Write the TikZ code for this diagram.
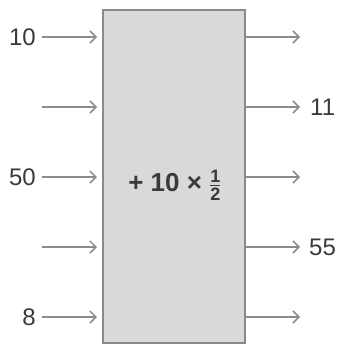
\documentclass[tikz,border=0pt]{standalone}
\usepackage{fontspec}
\setmainfont{Liberation Sans}
\usetikzlibrary{arrows.meta}
\definecolor{arr}{HTML}{8C8C8C}
\definecolor{boxfill}{HTML}{D9D9DB}
\definecolor{boxline}{HTML}{8A8A8A}
\definecolor{txt}{HTML}{3A3A3A}
\begin{document}
\begin{tikzpicture}[x=1pt,y=-1pt,
  lbl/.style={text=txt,font=\fontsize{24}{24}\selectfont,inner sep=0pt},
  flow/.style={draw=arr,line width=1.5pt,-{Straight Barb[length=6pt,width=12pt,line width=1.5pt]}},
  opbox/.style={draw=boxline,fill=boxfill,line width=1.5pt,minimum width=142pt,minimum height=333pt,inner sep=0pt}]
\useasboundingbox (0,0) rectangle (338,345);
\node[opbox] (box) at (174,176.5) {};
\node[text=txt,font=\bfseries\fontsize{26}{26}\selectfont,inner sep=0pt] (op) at (175,185)
  {+ 10 × $\frac{\hbox{\bfseries\fontsize{18}{18}\selectfont 1}}{\hbox{\bfseries\fontsize{18}{18}\selectfont 2}}$};
% left inputs
\node[lbl,anchor=east] (a) at (36,37) {10};
\coordinate (b) at (42,107);
\node[lbl,anchor=east] (c) at (36,177) {50};
\coordinate (d) at (42,247);
\node[lbl,anchor=east] (e) at (36,317) {8};
\coordinate (ia) at (97,37);
\coordinate (ib) at (97,107);
\coordinate (ic) at (97,177);
\coordinate (id) at (97,247);
\coordinate (ie) at (97,317);
\draw[flow] ([xshift=6pt]a.east) -- (ia);
\draw[flow] (b) -- (ib);
\draw[flow] ([xshift=6pt]c.east) -- (ic);
\draw[flow] (d) -- (id);
\draw[flow] ([xshift=6pt]e.east) -- (ie);
% right outputs
\coordinate (oa) at (300,37);
\node[lbl,anchor=west] (ob) at (310,107) {11};
\coordinate (oc) at (300,177);
\node[lbl,anchor=west] (od) at (309,247) {55};
\coordinate (oe) at (300,317);
\draw[flow] (box.east |- oa) -- (oa);
\draw[flow] (box.east |- ob) -- ([xshift=-10pt]ob.west);
\draw[flow] (box.east |- oc) -- (oc);
\draw[flow] (box.east |- od) -- ([xshift=-9pt]od.west);
\draw[flow] (box.east |- oe) -- (oe);
\end{tikzpicture}
\end{document}
